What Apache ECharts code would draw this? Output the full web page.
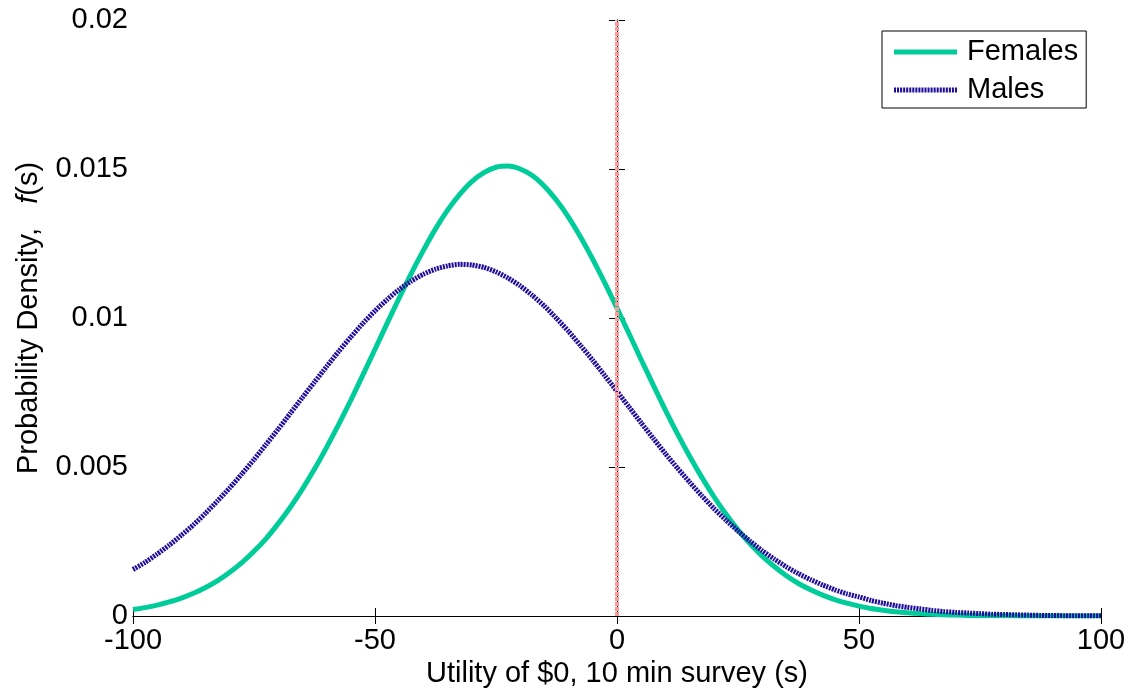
<!DOCTYPE html>
<html>
<head>
<meta charset="utf-8">
<script src="https://cdn.jsdelivr.net/npm/echarts@6/dist/echarts.min.js"></script>
<style>html,body{margin:0;padding:0;background:#fff;}#c{width:1139px;height:692px;}</style>
</head>
<body>
<div id="c"></div>
<script>
const sValues = [-100,-97.5,-95,-92.5,-90,-87.5,-85,-82.5,-80,-77.5,-75,-72.5,-70,-67.5,-65,-62.5,-60,-57.5,-55,-52.5,-50,-47.5,-45,-42.5,-40,-37.5,-35,-32.5,-30,-27.5,-25,-22.5,-20,-17.5,-15,-12.5,-10,-7.5,-5,-2.5,0,2.5,5,7.5,10,12.5,15,17.5,20,22.5,25,27.5,30,32.5,35,37.5,40,42.5,45,47.5,50,52.5,55,57.5,60,62.5,65,67.5,70,72.5,75,77.5,80,82.5,85,87.5,90,92.5,95,97.5,100];
const females = [0.000215,0.000282,0.000366,0.000472,0.000603,0.000763,0.000957,0.00119,0.00147,0.00179,0.00217,0.00260,0.00310,0.00365,0.00426,0.00493,0.00566,0.00643,0.00724,0.00809,0.00895,0.00982,0.01067,0.01150,0.01227,0.01299,0.01362,0.01415,0.01458,0.01488,0.01506,0.01510,0.01500,0.01478,0.01442,0.01395,0.01338,0.01271,0.01197,0.01117,0.01033,0.00947,0.00860,0.00775,0.00691,0.00611,0.00536,0.00466,0.00401,0.00342,0.00289,0.00242,0.00201,0.00166,0.00135,0.00109,0.00088,0.00070,0.00055,0.00043,0.00033,0.00025,0.00019,0.00014,0.00011,0.00008,0.00006,0.00004,0.00003,0.00002,0.00001,0.00001,0.00001,0,0,0,0,0,0,0,0];
const males = [0.00156,0.00180,0.00208,0.00238,0.00271,0.00306,0.00345,0.00387,0.00430,0.00477,0.00525,0.00576,0.00627,0.00680,0.00733,0.00785,0.00837,0.00888,0.00936,0.00982,0.01024,0.01062,0.01096,0.01124,0.01147,0.01164,0.01175,0.01180,0.01178,0.01170,0.01155,0.01134,0.01108,0.01076,0.01040,0.00999,0.00955,0.00907,0.00858,0.00806,0.00754,0.00701,0.00648,0.00596,0.00545,0.00496,0.00449,0.00404,0.00361,0.00322,0.00285,0.00251,0.00219,0.00191,0.00165,0.00142,0.00122,0.00104,0.00088,0.00074,0.00064,0.00052,0.00043,0.00035,0.00029,0.00024,0.00019,0.00015,0.00012,0.00010,0.00008,0.00006,0.00005,0.00004,0.00003,0.00002,0.00002,0.00001,0.00001,0.00001,0.00001];
const xTicks = [-100,-50,0,50,100];
const yTicks = [0,0.005,0.01,0.015,0.02];
const seriesNames = ['Females','Males'];
const markX = 0;

const FONT = 'Liberation Sans, Arial, sans-serif';
const FEM_COLOR = '#00cc99';
const MAL_COLOR = '#1e0c9c';
const chart = echarts.init(document.getElementById('c'));
const pairs = arr => sValues.map((x,i)=>[x,arr[i]]);
// legend icons (style only)
const solidIcon = 'path://M0,0h63v5h-63z';
let dotted = '';
for (let k = 0; k < 21; k++) dotted += 'M' + (k*3) + ',0h2v5h-2z';
const dottedIcon = 'path://' + dotted;

const axisCommon = {
  axisLine:{show:true,lineStyle:{color:'#000',width:1}},
  axisTick:{show:true,inside:true,length:8,lineStyle:{color:'#000',width:1}},
  splitLine:{show:false}
};
chart.setOption({
  animation:false,
  backgroundColor:'#fff',
  grid:{left:133,right:38,top:20,bottom:76,containLabel:false,outerBoundsMode:'none'},
  legend:{
    data:[{name:seriesNames[0],icon:solidIcon},{name:seriesNames[1],icon:dottedIcon}],
    orient:'vertical',
    left:882, top:31,
    padding:[6,8,3,12],
    itemGap:8,
    itemWidth:63, itemHeight:14,
    symbolKeepAspect:true,
    itemStyle:{borderWidth:0},
    backgroundColor:'#fff',
    borderColor:'#000', borderWidth:1, borderRadius:0,
    textStyle:{fontFamily:FONT,fontSize:29,lineHeight:30,color:'#000',padding:[0,0,0,5]}
  },
  xAxis:[
    Object.assign({type:'value',min:-100,max:100,interval:50,position:'bottom',
      name:'Utility of $0, 10 min survey (s)',nameLocation:'middle',nameGap:40,
      nameTextStyle:{fontFamily:FONT,fontSize:29,color:'#000'},
      axisLabel:{fontFamily:FONT,fontSize:29,color:'#000',margin:10,
        formatter:v=>xTicks.includes(v)?String(v):''}},axisCommon),
    Object.assign({type:'value',min:-100,max:100,interval:50,position:'top',
      axisLabel:{show:false}},axisCommon)
  ],
  yAxis:[
    Object.assign({type:'value',min:0,max:0.02,interval:0.005,position:'left',
      name:'{n|Probability Density,   }{i|f}{n|(s)}',nameLocation:'middle',nameGap:90,nameRotate:90,
      nameTextStyle:{rich:{n:{fontFamily:FONT,fontSize:29,color:'#000'},i:{fontFamily:FONT,fontSize:29,fontStyle:'italic',color:'#000'}}},
      axisLabel:{fontFamily:FONT,fontSize:29,color:'#000',margin:5,
        formatter:v=>{const t=yTicks.find(k=>Math.abs(k-v)<1e-9);return t===undefined?'':String(t);}}},axisCommon),
    Object.assign({type:'value',min:0,max:0.02,interval:0.005,position:'right',
      axisLabel:{show:false}},axisCommon)
  ],
  series:[
    {name:'Females',type:'line',data:pairs(females),smooth:0.2,symbol:'none',
      lineStyle:{color:FEM_COLOR,width:5},itemStyle:{color:FEM_COLOR},z:2},
    {name:'Males',type:'line',data:pairs(males),smooth:0.2,symbol:'none',
      lineStyle:{color:MAL_COLOR,width:5,type:[2,1]},itemStyle:{color:MAL_COLOR},z:3,
      markLine:{silent:true,symbol:'none',label:{show:false},animation:false,
        lineStyle:{color:'#ff9999',width:4,type:[4,1],opacity:1},
        data:[{xAxis:markX}]}}
  ]
});
</script>
</body>
</html>
